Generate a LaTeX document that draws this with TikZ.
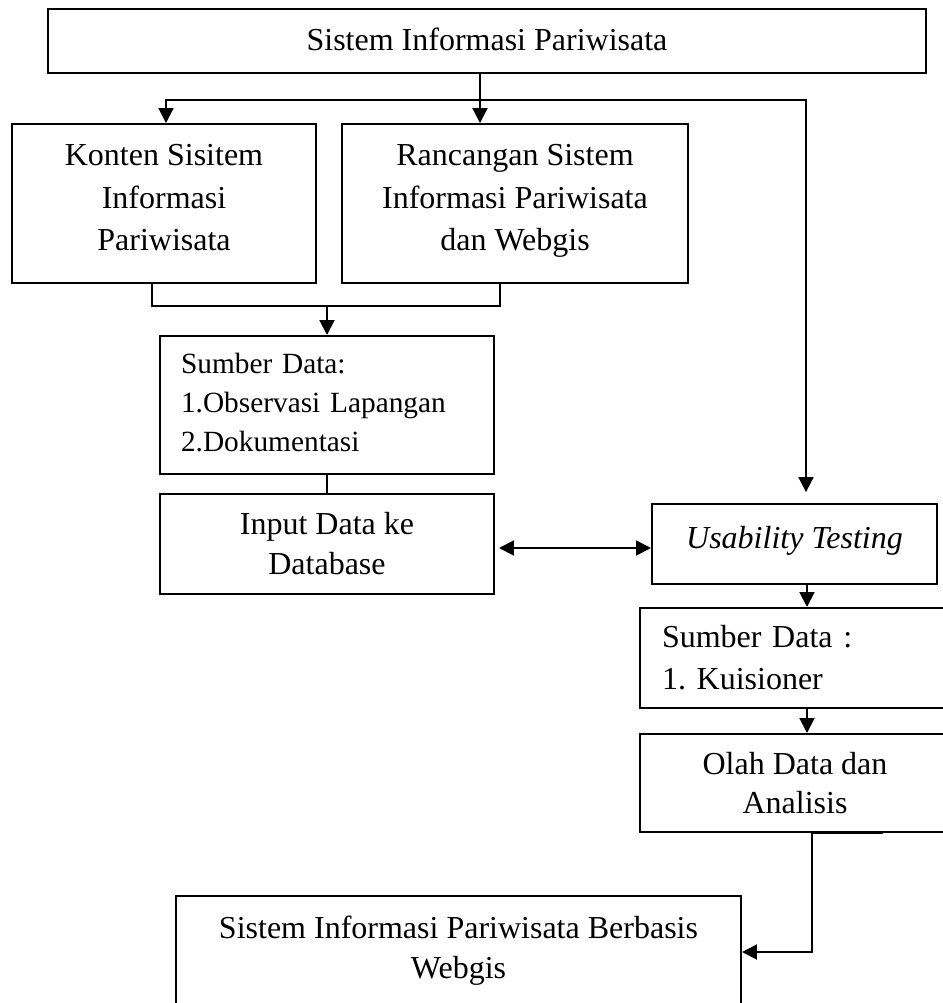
\documentclass[tikz,border=0pt]{standalone}
\usepackage{fontspec}
\setmainfont{Liberation Serif}
\usetikzlibrary{arrows.meta}
\begin{document}
\begin{tikzpicture}[x=0.375pt,y=-0.375pt,
  box/.style={draw,line width=0.75pt,inner sep=0pt,font=\fontsize{12pt}{15pt}\selectfont,align=center},
  conn/.style={line width=0.75pt},
  arr/.style={conn,-{Triangle[width=5.6pt,length=5.6pt]}},
  darr/.style={conn,{Triangle[width=5.6pt,length=5.6pt]}-{Triangle[width=5.6pt,length=5.6pt]}}]
\fill[white] (0,0) rectangle (943,1003);
\useasboundingbox (0,0) rectangle (943,1003);

\node[box,minimum width=329.25pt,minimum height=24pt,text depth=1pt] (title) at (487,41) {Sistem Informasi Pariwisata};
\node[box,minimum width=114pt,minimum height=59.6pt,text depth=4.5pt,font=\fontsize{12pt}{15.9pt}\selectfont] (konten) at (164,203.5) {Konten Sisitem\\Informasi\\Pariwisata};
\node[box,minimum width=129.75pt,minimum height=59.6pt,text depth=4.5pt,font=\fontsize{12pt}{15.9pt}\selectfont] (ranc) at (515,203.5) {Rancangan Sistem\\Informasi Pariwisata\\dan Webgis};
\node[box,minimum width=125.25pt,minimum height=51.75pt,text depth=31.45pt,inner xsep=7.9pt,text width=109.45pt,align=left,font=\fontsize{11pt}{14.6pt}\selectfont] (sumber) at (327,405) {Sumber Data:\\1.Observasi Lapangan\\2.Dokumentasi};
\node[box,minimum width=125.25pt,minimum height=37.5pt] (input) at (327,544) {Input Data ke\\Database};
\node[box,minimum width=106.9pt,minimum height=30pt,text depth=5.2pt,font=\fontsize{12pt}{15pt}\selectfont\itshape] (usab) at (794.5,544) {Usability Testing};
\node[box,minimum width=116.25pt,minimum height=37.5pt,inner xsep=8.25pt,text width=99.75pt,align=left,font=\fontsize{12pt}{15.75pt}\selectfont] (sumber2) at (795,658) {Sumber Data :\\1.\hspace{4pt}Kuisioner};
\node[box,minimum width=116.25pt,minimum height=36.75pt,font=\fontsize{12pt}{14.6pt}\selectfont] (olah) at (795,783) {Olah Data dan\\Analisis};
\node[box,minimum width=211.9pt,minimum height=40.9pt] (final) at (458.5,950.5) {Sistem Informasi Pariwisata Berbasis\\Webgis};

\coordinate (j) at (480,100);
\coordinate (jl) at (166,100);
\coordinate (jr) at (806,100);
\draw[darr,shorten >=4.1pt] (konten.north -| jl) -- (jl) -- (jr) -- (usab.north -| jr);
\draw[arr] (title.south -| j) -- (ranc.north -| j);

\coordinate (bl) at (152,306);
\coordinate (br) at (500,306);
\draw[conn] (konten.south -| bl) -- (bl) -- (br) -- (ranc.south -| br);
\draw[arr] (sumber.north |- bl) -- (sumber.north);
\draw[conn] (sumber.south) -- (input.north);

\coordinate (da) at (0,548);
\draw[darr,shorten <=1.5pt] (input.east |- da) -- (usab.west |- da);

\coordinate (rx) at (807,0);
\draw[arr] (usab.south -| rx) -- (sumber2.north -| rx);
\draw[arr] (sumber2.south -| rx) -- (olah.north -| rx);

\coordinate (ob) at (883,832);
\coordinate (ov) at (812,952);
\draw[arr] (olah.south -| ob) -- (olah.south -| ov) -- (ov) -- (final.east |- ov);
\end{tikzpicture}
\end{document}
